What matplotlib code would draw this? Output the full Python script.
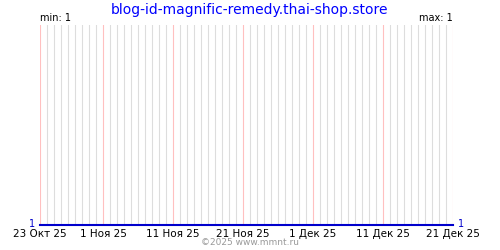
import matplotlib
matplotlib.use("Agg")
from matplotlib import pyplot as plt
import pandas as pd

# daily visits for the site, 23 Oct 2025 .. 21 Dec 2025
start_date = "2025-10-23"
end_date = "2025-12-21"
visits = [1, 1, 1, 1, 1, 1, 1, 1, 1, 1,
          1, 1, 1, 1, 1, 1, 1, 1, 1, 1,
          1, 1, 1, 1, 1, 1, 1, 1, 1, 1,
          1, 1, 1, 1, 1, 1, 1, 1, 1, 1,
          1, 1, 1, 1, 1, 1, 1, 1, 1, 1,
          1, 1, 1, 1, 1, 1, 1, 1, 1, 1]
tick_dates = ["2025-10-23", "2025-11-01", "2025-11-11", "2025-11-21",
              "2025-12-01", "2025-12-11", "2025-12-21"]
tick_labels = ["23 Окт 25", "1 Ноя 25", "11 Ноя 25", "21 Ноя 25",
               "1 Дек 25", "11 Дек 25", "21 Дек 25"]
title = "blog-id-magnific-remedy.thai-shop.store"

days = pd.date_range(start_date, end_date, freq="D")

fig = plt.figure(figsize=(5, 2.5), dpi=100)
ax = fig.add_axes([40 / 500, 25 / 250, 413 / 500, 200 / 250])

# daily grid lines (1 px), pinkish ones on the labelled dates
majors = list(pd.to_datetime(tick_dates))
minors = [d for d in days if d not in majors]
for d in minors:
    ax.axvline(d, color="#dddddd", lw=0.8, zorder=1)
for d in majors:
    ax.axvline(d, color="#ffc0c0", lw=0.8, zorder=2)

ax.plot(days, visits, color="#0000cc", lw=1.5, zorder=3, clip_on=False)

ax.set_xlim(days[0], days[-1])
vmin, vmax = min(visits), max(visits)
ax.set_ylim(vmin, vmin + 1)

for s in ax.spines.values():
    s.set_visible(False)
ax.set_yticks([])
ax.set_xticks(majors)
ax.set_xticklabels(tick_labels, fontsize=7.5)
ax.tick_params(axis="x", length=0, pad=3)

ax.text(-0.012, -0.018, str(vmin), transform=ax.transAxes, color="#0000cc",
        fontsize=7, ha="right", va="bottom")
ax.text(1.012, -0.018, str(visits[-1]), transform=ax.transAxes, color="#0000cc",
        fontsize=7, ha="left", va="bottom")
ax.text(0, 1.01, "min: %d" % vmin, transform=ax.transAxes, fontsize=7,
        ha="left", va="bottom")
ax.text(1, 1.01, "max: %d" % vmax, transform=ax.transAxes, fontsize=7,
        ha="right", va="bottom")

fig.text(0.5, 0.96, title, color="#0000ff", fontsize=10, ha="center", va="center")
fig.text(0.5, 0.03, "©2025 www.mmnt.ru", color="#999999", fontsize=6.5,
         ha="center", va="center")

fig.savefig("out.png", dpi=100)
